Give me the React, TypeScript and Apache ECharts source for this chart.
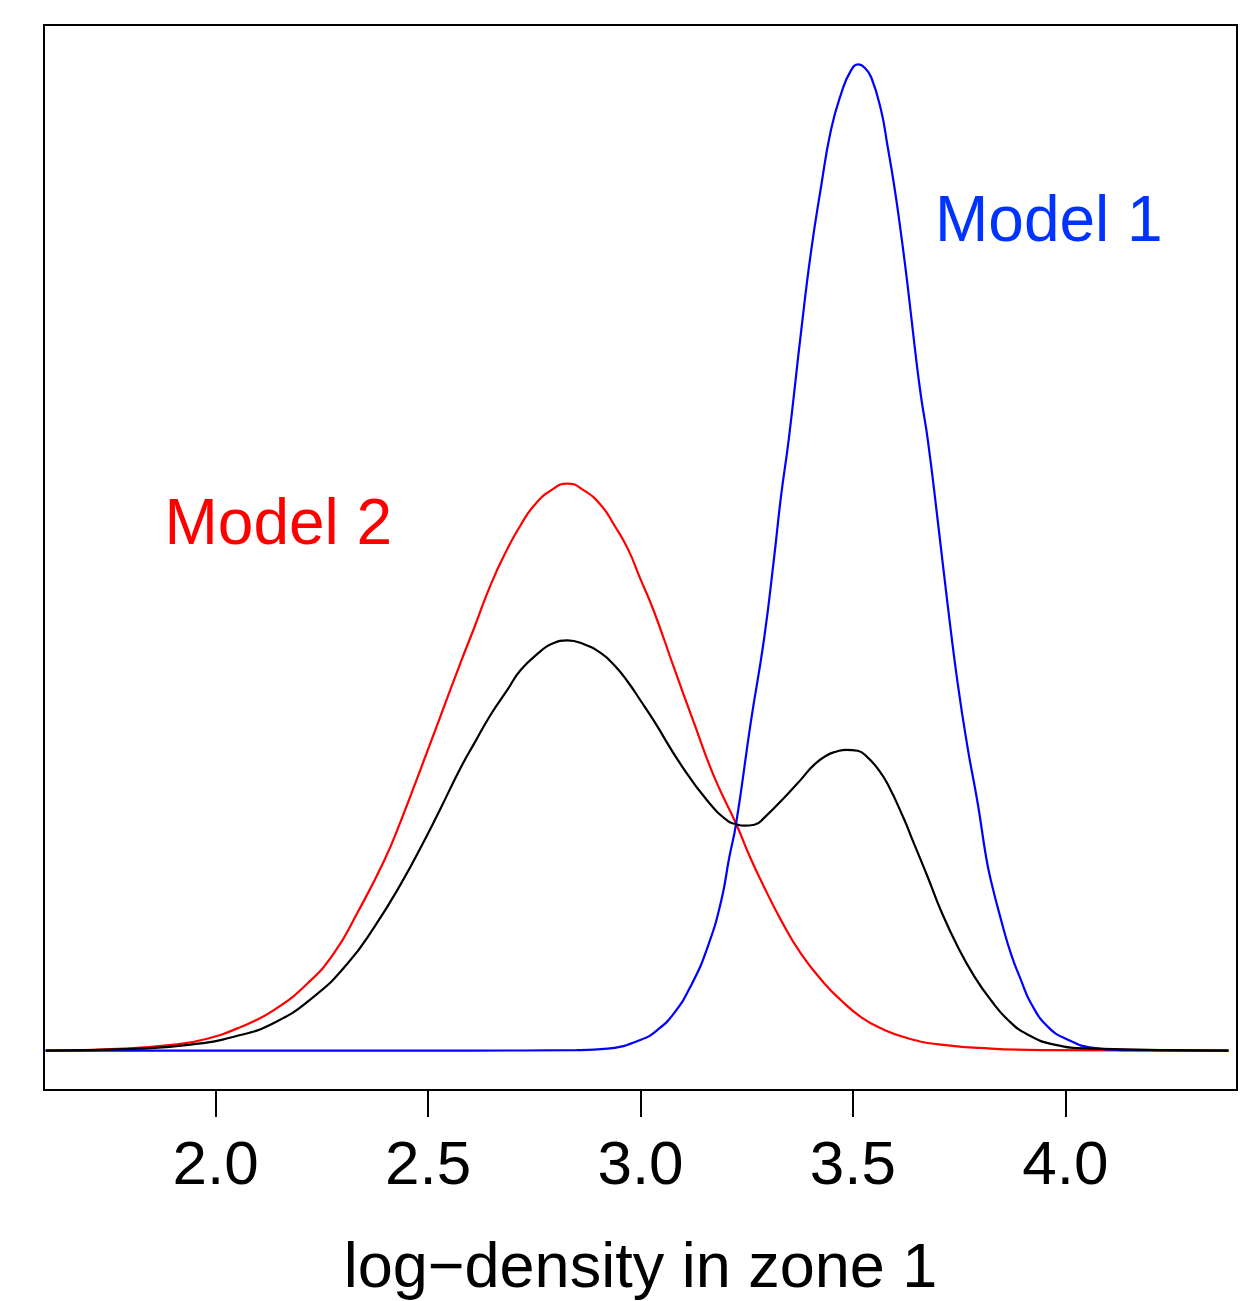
import React, { useEffect, useRef } from "react";
import * as echarts from "echarts";

// Model 1 density (blue): [log-density, relative density]
const model1Points: [number, number][] = [
  [1.6, 0], [2.6, 0], [2.85, 0.0005], [2.9225, 0.002], [3.001, 0.011], [3.04, 0.021],
  [3.079, 0.038], [3.119, 0.066], [3.158, 0.105], [3.19, 0.152], [3.209, 0.196],
  [3.225, 0.23], [3.26, 0.334], [3.291, 0.418], [3.315, 0.502], [3.331, 0.563],
  [3.349, 0.62], [3.378, 0.729], [3.401, 0.809], [3.425, 0.876], [3.448, 0.933],
  [3.472, 0.97], [3.4955, 0.994], [3.513, 1.0], [3.527, 0.997], [3.543, 0.987],
  [3.566, 0.954], [3.582, 0.916], [3.5975, 0.876], [3.613, 0.829], [3.629, 0.775],
  [3.645, 0.715], [3.66, 0.664], [3.676, 0.62], [3.7, 0.536], [3.723, 0.452],
  [3.747, 0.371], [3.77, 0.307], [3.794, 0.25], [3.8135, 0.196], [3.825, 0.172],
  [3.849, 0.132], [3.872, 0.098], [3.896, 0.071], [3.919, 0.048], [3.959, 0.024],
  [4.006, 0.011], [4.061, 0.003], [4.138, 0.0005], [4.384, 0],
];

// Model 2 density (red)
const model2Points: [number, number][] = [
  [1.6, 0], [1.784, 0.002], [1.902, 0.006], [1.98, 0.012], [2.059, 0.024],
  [2.137, 0.041], [2.216, 0.068], [2.279, 0.099], [2.334, 0.14], [2.396, 0.192],
  [2.436, 0.233], [2.483, 0.286], [2.53, 0.34], [2.577, 0.394], [2.608, 0.428],
  [2.648, 0.473], [2.687, 0.509], [2.718, 0.533], [2.75, 0.553], [2.789, 0.568],
  [2.828, 0.575], [2.867, 0.568], [2.907, 0.553], [2.938, 0.533], [2.97, 0.509],
  [3.0, 0.478], [3.032, 0.445], [3.079, 0.388], [3.127, 0.331], [3.174, 0.277],
  [3.225, 0.23], [3.258, 0.196], [3.284, 0.172], [3.331, 0.132], [3.378, 0.098],
  [3.433, 0.068], [3.472, 0.051], [3.519, 0.034], [3.566, 0.0225], [3.629, 0.0125],
  [3.707, 0.006], [3.825, 0.002], [3.943, 0.0005], [4.384, 0],
];

// Mixture density (black)
const mixturePoints: [number, number][] = [
  [1.6, 0], [1.823, 0.002], [1.941, 0.006], [2.043, 0.014], [2.137, 0.028],
  [2.232, 0.055], [2.31, 0.088], [2.373, 0.125], [2.436, 0.169], [2.495, 0.216],
  [2.53, 0.246], [2.577, 0.287], [2.608, 0.311], [2.648, 0.341], [2.687, 0.366],
  [2.718, 0.386], [2.765, 0.405], [2.789, 0.412], [2.828, 0.416], [2.867, 0.412],
  [2.907, 0.403], [2.938, 0.391], [2.97, 0.374], [3.0, 0.355], [3.032, 0.334],
  [3.095, 0.29], [3.158, 0.253], [3.205, 0.233], [3.225, 0.2295], [3.244, 0.228],
  [3.268, 0.229], [3.291, 0.236], [3.346, 0.26], [3.378, 0.275], [3.409, 0.29],
  [3.441, 0.3], [3.46, 0.303], [3.484, 0.305], [3.511, 0.304], [3.535, 0.297],
  [3.558, 0.286], [3.582, 0.27], [3.621, 0.234], [3.637, 0.217], [3.676, 0.176],
  [3.707, 0.142], [3.747, 0.105], [3.786, 0.075], [3.825, 0.051], [3.865, 0.031],
  [3.912, 0.016], [3.974, 0.006], [4.061, 0.002], [4.384, 0],
];

const xTicks = [2.0, 2.5, 3.0, 3.5, 4.0];
const xTitle = "log\u2212density in zone 1";
const label1 = "Model 1";
const label2 = "Model 2";

const FONT = '"Liberation Sans", Arial, Helvetica, sans-serif';

export default function App() {
  const ref = useRef<HTMLDivElement>(null);
  useEffect(() => {
    document.body.style.margin = "0";
    const chart = echarts.init(ref.current!, null, { renderer: "svg" });
    const lineSeries = (name: string, data: [number, number][], color: string, z: number) => ({
      name,
      type: "line",
      data,
      showSymbol: false,
      smooth: 0.5,
      clip: true,
      z,
      lineStyle: { color, width: 2.2 },
    });
    chart.setOption({
      animation: false,
      backgroundColor: "#ffffff",
      grid: {
        left: 44,
        top: 25,
        right: 22,
        bottom: 208,
        show: true,
        borderColor: "#000000",
        borderWidth: 2,
        backgroundColor: "transparent",
      },
      xAxis: {
        type: "value",
        min: 1.596,
        max: 4.404,
        axisLine: { show: false, onZero: false },
        splitLine: { show: false },
        axisTick: {
          show: true,
          inside: false,
          length: 27,
          customValues: xTicks,
          lineStyle: { color: "#000000", width: 2 },
        },
        axisLabel: {
          show: true,
          customValues: xTicks,
          margin: 41,
          fontSize: 62,
          fontFamily: FONT,
          color: "#000000",
          formatter: (v: number) => v.toFixed(1),
        },
        name: xTitle,
        nameLocation: "middle",
        nameGap: 143,
        nameTextStyle: { fontSize: 63, fontFamily: FONT, color: "#000000" },
      },
      yAxis: {
        type: "value",
        min: -0.04,
        max: 1.04,
        show: false,
        splitLine: { show: false },
      },
      series: [
        lineSeries("Model 2", model2Points, "#ff0000", 2),
        lineSeries("Model 1", model1Points, "#0000ff", 3),
        lineSeries("Mixture", mixturePoints, "#000000", 4),
      ],
      graphic: [
        {
          type: "text",
          x: 935,
          y: 219,
          style: {
            text: label1,
            fill: "#0033ff",
            font: `64px ${FONT}`,
            verticalAlign: "middle",
            align: "left",
          },
        },
        {
          type: "text",
          x: 164.5,
          y: 521.5,
          style: {
            text: label2,
            fill: "#ff0000",
            font: `64px ${FONT}`,
            verticalAlign: "middle",
            align: "left",
          },
        },
      ],
    });
    return () => chart.dispose();
  }, []);
  return <div ref={ref} style={{ width: 1259, height: 1301 }} />;
}
